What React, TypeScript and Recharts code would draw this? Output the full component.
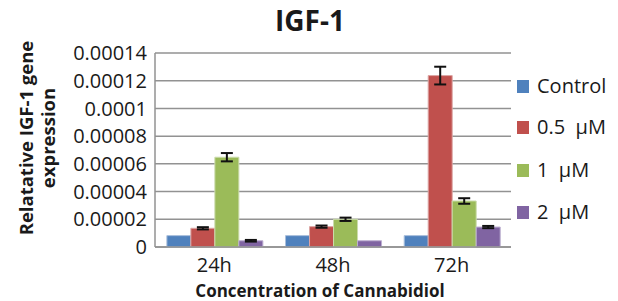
import * as React from 'react';
import { BarChart, Bar, XAxis, YAxis, CartesianGrid, ErrorBar } from 'recharts';

const categories = ['24h', '48h', '72h'];
const control = [0.0000082, 0.0000082, 0.0000082];
const halfMicro = [0.0000135, 0.0000147, 0.0001237];
const oneMicro = [0.0000648, 0.00002, 0.0000332];
const twoMicro = [0.0000045, 0.0000045, 0.0000144];
const halfErr = [0.0000008, 0.0000008, 0.0000064];
const oneErr = [0.000003, 0.0000012, 0.000002];
const twoErr = [0.0000006, 0, 0.0000008];
const yTicks = [0, 0.00002, 0.00004, 0.00006, 0.00008, 0.0001, 0.00012, 0.00014];
const seriesNames = ['Control', '0.5  μM', '1  μM', '2  μM'];
const colors = ['#4F81BD', '#C0504D', '#9BBB59', '#8064A2'];

const data = categories.map((c, i) => ({
  name: c,
  control: control[i],
  half: halfMicro[i],
  one: oneMicro[i],
  two: twoMicro[i],
  halfErr: halfErr[i],
  oneErr: oneErr[i],
  twoErr: twoErr[i],
}));

const font = '"Open Sans", sans-serif';

const fmt = (v: number) => {
  if (v === 0) return '0';
  return v.toFixed(5).replace(/0+$/, '');
};

export default function App() {
  return (
    <div style={{ position: 'absolute', left: 0, top: 0, width: 618, height: 301, background: '#fff', fontFamily: font }}>
      <div style={{ position: 'absolute', left: 0, width: 620, top: 0, textAlign: 'center', fontSize: 28, fontWeight: 700, lineHeight: '40px', color: '#1a1a1a' }}>
        IGF-1
      </div>
      <BarChart
        width={618}
        height={301}
        data={data}
        margin={{ top: 53, right: 107, bottom: 24, left: 75 }}
        barCategoryGap="10%"
        barGap={0}
      >
        <CartesianGrid vertical={false} stroke="#929292" strokeWidth={1.5} />
        <XAxis
          dataKey="name"
          height={30}
          tickLine={false}
          tickSize={0}
          tickMargin={11}
          axisLine={{ stroke: '#929292', strokeWidth: 1.5 }}
          tick={{ fontSize: 20, fill: '#1a1a1a', fontFamily: font }}
          label={{
            content: () => (
              <text x={320} y={297} textAnchor="middle" fontSize={17} fontWeight={700} fill="#1a1a1a" fontFamily={font}>
                Concentration of Cannabidiol
              </text>
            ),
          }}
        />
        <YAxis
          width={80}
          domain={[0, 0.00014]}
          ticks={yTicks}
          interval={0}
          tickFormatter={fmt}
          tickLine={false}
          tickSize={0}
          tickMargin={8}
          axisLine={{ stroke: '#929292', strokeWidth: 1.5 }}
          tick={{ fontSize: 20, fill: '#1a1a1a', fontFamily: font }}
          label={{
            content: () => (
              <g fontSize={18.5} fontWeight={700} fill="#1a1a1a" fontFamily={font}>
                <text x={33} y={138} textAnchor="middle" transform="rotate(-90, 33, 138)">
                  Relatative IGF-1 gene
                </text>
                <text x={55} y={138} textAnchor="middle" transform="rotate(-90, 55, 138)">
                  expression
                </text>
              </g>
            ),
          }}
        />
        <Bar dataKey="control" fill={colors[0]} stroke="#a9bfdc" strokeWidth={1} isAnimationActive={false} />
        <Bar dataKey="half" fill={colors[1]} stroke="#dca6a4" strokeWidth={1} isAnimationActive={false}>
          <ErrorBar dataKey="halfErr" width={6} stroke="#111" strokeWidth={2} direction="y" />
        </Bar>
        <Bar dataKey="one" fill={colors[2]} stroke="#cbdcac" strokeWidth={1} isAnimationActive={false}>
          <ErrorBar dataKey="oneErr" width={6} stroke="#111" strokeWidth={2} direction="y" />
        </Bar>
        <Bar dataKey="two" fill={colors[3]} stroke="#bcaed0" strokeWidth={1} isAnimationActive={false}>
          <ErrorBar dataKey="twoErr" width={6} stroke="#111" strokeWidth={2} direction="y" />
        </Bar>
      </BarChart>
      {seriesNames.map((n, i) => (
        <div
          key={n}
          style={{
            position: 'absolute',
            left: 517,
            top: [87, 128, 171, 213][i] - 14.6,
            height: 28,
            display: 'flex',
            alignItems: 'center',
            fontSize: 20,
            lineHeight: '28px',
            color: '#1a1a1a',
            whiteSpace: 'pre',
          }}
        >
          <span style={{ display: 'inline-block', width: 12, height: 13, background: colors[i], marginRight: 8 }} />
          <span>{n}</span>
        </div>
      ))}
    </div>
  );
}
